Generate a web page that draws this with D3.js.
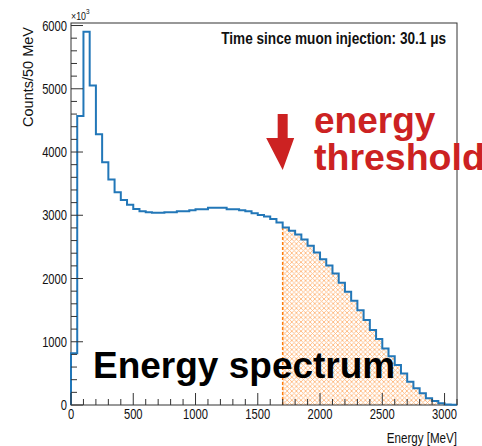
<!DOCTYPE html>
<html>
<head>
<meta charset="utf-8">
<script src="https://d3js.org/d3.v7.min.js"></script>
<style>
  body { margin: 0; background: #fff; }
  svg { display: block; font-family: "Liberation Sans", Arial, sans-serif; }
</style>
</head>
<body>
<svg id="chart"></svg>
<script>
// histogram contents, 50 MeV bins starting at 0
const binWidth = 50;
const counts = [
  820, 4570, 5900, 5050, 4280, 3840, 3565, 3365, 3240, 3165,
  3100, 3065, 3049, 3038, 3038, 3049, 3049, 3065, 3065, 3080,
  3096, 3096, 3117, 3117, 3117, 3096, 3096, 3080, 3065, 3033,
  3006, 2980, 2940, 2885, 2807, 2754, 2697, 2618, 2517, 2412,
  2306, 2205, 2080, 1932, 1790, 1648, 1500, 1343, 1185, 1043,
  895, 770, 632, 500, 368, 263, 185, 106, 63, 27,
  8, 3
];
const threshold = 1700;
const xTicks = [0, 500, 1000, 1500, 2000, 2500, 3000];
const yTicks = [0, 1000, 2000, 3000, 4000, 5000, 6000];
const xMax = 3100;
const yMax = 6040;

const W = 482, H = 446;
const margin = { top: 23, right: 25, bottom: 41, left: 71 };
const width = W - margin.left - margin.right;
const height = H - margin.top - margin.bottom;
const sx = 0.8; // ROOT text looks squeezed horizontally

const svg = d3.select("#chart").attr("width", W).attr("height", H);
const g = svg.append("g").attr("transform", `translate(${margin.left},${margin.top})`);

const x = d3.scaleLinear().domain([0, xMax]).range([0, width]);
const y = d3.scaleLinear().domain([0, yMax]).range([height, 0]);

// hatch pattern
const defs = svg.append("defs");
defs.append("pattern")
  .attr("id", "hatch")
  .attr("patternUnits", "userSpaceOnUse")
  .attr("width", 4.6)
  .attr("height", 4.6)
  .append("path")
  .attr("d", "M0,0L4.6,4.6M4.6,0L0,4.6")
  .attr("stroke", "#ff8a2a")
  .attr("stroke-width", 0.9)
  .attr("opacity", 0.6);

const pts = counts.map((c, i) => ({ e: i * binWidth, c }));
const lastPt = { e: counts.length * binWidth, c: counts[counts.length - 1] };

// hatched area beyond the threshold
const hatchPts = pts.filter((d) => d.e >= threshold).concat([lastPt]);
const area = d3.area()
  .curve(d3.curveStepAfter)
  .x((d) => x(d.e))
  .y0(y(0))
  .y1((d) => y(d.c));
g.append("path")
  .datum(hatchPts)
  .attr("d", area)
  .attr("fill", "url(#hatch)");

const tBin = counts[threshold / binWidth];
g.append("line")
  .attr("x1", x(threshold)).attr("x2", x(threshold))
  .attr("y1", y(0)).attr("y2", y(tBin))
  .attr("stroke", "#ff7f0e")
  .attr("stroke-width", 1.5)
  .attr("stroke-dasharray", "3,2");

// frame
g.append("rect")
  .attr("width", width).attr("height", height)
  .attr("fill", "none")
  .attr("stroke", "#333")
  .attr("stroke-width", 1);

// histogram line
const line = d3.line()
  .curve(d3.curveStepAfter)
  .x((d) => x(d.e))
  .y((d) => y(d.c));
g.append("path")
  .datum([{ e: 0, c: 0 }].concat(pts, [lastPt]))
  .attr("d", line)
  .attr("fill", "none")
  .attr("stroke", "#2277b8")
  .attr("stroke-width", 2);

// ticks
const tickColor = "#333";
d3.range(0, xMax + 1, 100).forEach((v) => {
  const major = v % 500 === 0;
  g.append("line")
    .attr("x1", x(v)).attr("x2", x(v))
    .attr("y1", height).attr("y2", height - (major ? 12 : 6))
    .attr("stroke", tickColor);
});
d3.range(0, 6001, 200).forEach((v) => {
  const major = v % 1000 === 0;
  g.append("line")
    .attr("x1", 0).attr("x2", major ? 12 : 6)
    .attr("y1", y(v)).attr("y2", y(v))
    .attr("stroke", tickColor);
});

const squeezed = (px, py, txt, size, anchor, weight, color) =>
  svg.append("text")
    .attr("transform", `translate(${px},${py}) scale(${sx},1)`)
    .attr("text-anchor", anchor)
    .attr("font-size", size)
    .attr("font-weight", weight || "normal")
    .attr("fill", color || "#111")
    .text(txt);

xTicks.forEach((v) => {
  squeezed(margin.left + x(v), margin.top + height + 14, v, 14, "middle");
});
yTicks.forEach((v) => {
  squeezed(margin.left - 4, margin.top + y(v) + 5, v, 14, "end");
});

// x10^3
const ex = svg.append("text")
  .attr("transform", `translate(${margin.left},20) scale(${sx},1)`)
  .attr("font-size", 11)
  .attr("fill", "#111");
ex.append("tspan").text("×10");
ex.append("tspan").attr("font-size", 8).attr("dy", -6).text("3");

// axis titles
squeezed(margin.left + width, 443, "Energy [MeV]", 14.5, "end");
svg.append("text")
  .attr("transform", `translate(33,27) rotate(-90)`)
  .attr("text-anchor", "end")
  .attr("font-size", 14.5)
  .attr("fill", "#111")
  .text("Counts/50 MeV");

squeezed(446, 44, "Time since muon injection: 30.1 μs", 17, "end", "bold");

// slide annotations
svg.append("text")
  .attr("x", 93).attr("y", 378)
  .attr("font-size", 37)
  .attr("font-weight", "bold")
  .attr("fill", "#000")
  .text("Energy spectrum");

const red = "#cc2222";
const arrowX = margin.left + x(threshold);
svg.append("path")
  .attr("d", `M${arrowX - 5},114 h10 v24 h6.5 L${arrowX},170 L${arrowX - 16.5},138 h11.5 Z`)
  .attr("fill", red);
svg.append("text")
  .attr("x", 314).attr("y", 133)
  .attr("font-size", 37)
  .attr("font-weight", "bold")
  .attr("fill", red)
  .text("energy");
svg.append("text")
  .attr("x", 314).attr("y", 170)
  .attr("font-size", 37.5)
  .attr("font-weight", "bold")
  .attr("fill", red)
  .text("threshold");
</script>
</body>
</html>
